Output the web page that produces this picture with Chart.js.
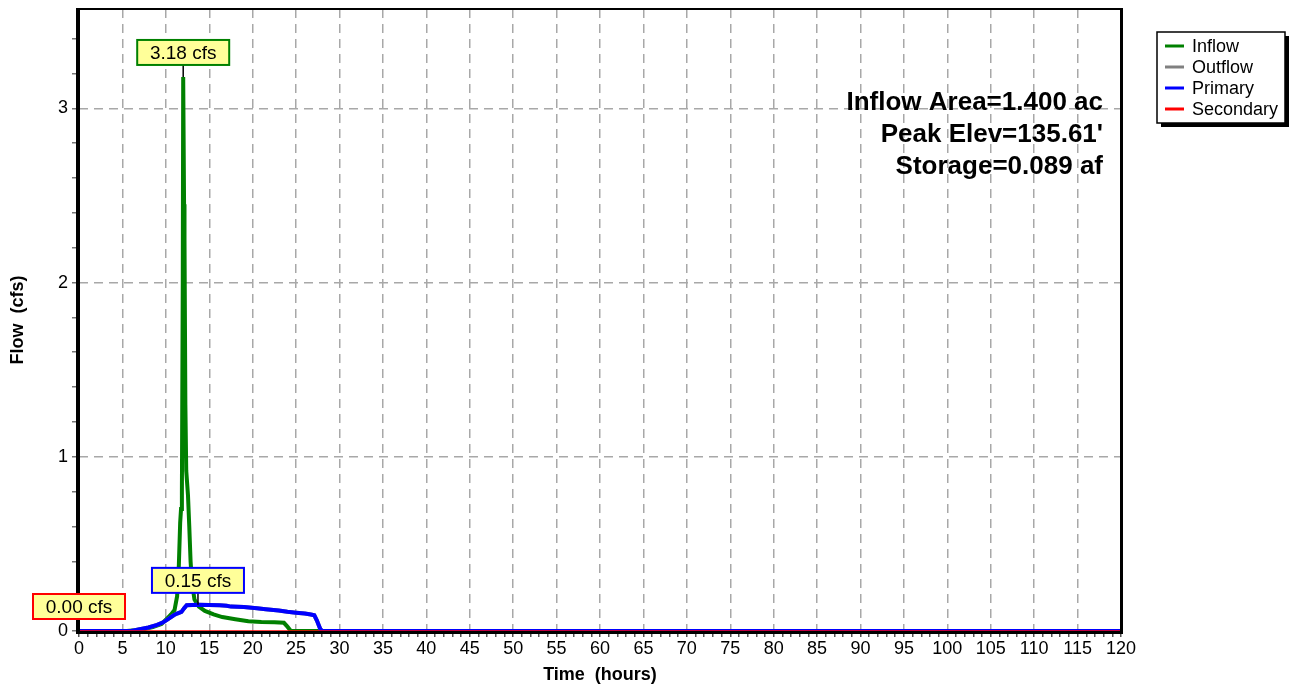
<!DOCTYPE html>
<html>
<head>
<meta charset="utf-8">
<title>Pond routing hydrograph</title>
<script src="https://cdn.jsdelivr.net/npm/chart.js@4/dist/chart.umd.min.js"></script>
<style>
  html, body { margin: 0; padding: 0; background: #fff; }
  #wrap { width: 1294px; height: 688px; }
</style>
</head>
<body>
<div id="wrap"><canvas id="flow-chart" width="1294" height="688"></canvas></div>
<script>
// hydrograph ordinates, hours / cfs
const inflowHours = [0, 5.5, 6.5, 7.5, 8.5, 9.5, 10.1, 10.6, 11.0, 11.3, 11.5, 11.65, 11.75, 11.85, 11.95, 12.0,
  12.1, 12.15, 12.25, 12.35, 12.55, 12.7, 12.85, 13.0, 13.3, 13.8, 14.5, 15.5, 16.5, 18.0, 19.5, 21.0, 22.5, 23.6, 24.0, 24.4, 120];
const inflowCfs = [0, 0, 0.005, 0.012, 0.022, 0.04, 0.07, 0.095, 0.12, 0.2, 0.38, 0.62, 0.7, 0.8, 2.0, 3.18,
  2.45, 2.25, 1.3, 0.92, 0.78, 0.6, 0.4, 0.28, 0.18, 0.14, 0.115, 0.095, 0.08, 0.068, 0.056, 0.052, 0.05, 0.047, 0.025, 0, 0];

const primaryHours = [0, 6.0, 7.0, 8.0, 9.0, 9.7, 10.3, 10.9, 11.3, 11.8, 12.1, 12.4, 13.7, 15.0, 16.2, 17.0, 17.5,
  19.0, 20.5, 21.5, 23.0, 24.0, 25.0, 26.0, 26.7, 27.1, 27.4, 27.6, 27.8, 28.0, 120];
const primaryCfs = [0, 0, 0.01, 0.02, 0.035, 0.05, 0.07, 0.09, 0.1, 0.11, 0.13, 0.148, 0.15, 0.149, 0.148, 0.145, 0.14,
  0.138, 0.13, 0.125, 0.118, 0.11, 0.105, 0.1, 0.095, 0.09, 0.06, 0.035, 0.01, 0, 0];

// no secondary discharge, so total outflow follows the primary
const outflowHours = primaryHours;
const outflowCfs = primaryCfs;

const secondaryHours = [0, 120];
const secondaryCfs = [0, 0];

const seriesNames = ["Inflow", "Outflow", "Primary", "Secondary"];
const seriesColors = ["#008000", "#808080", "#0000ff", "#ff0000"];
const infoLines = ["Inflow Area=1.400 ac", "Peak Elev=135.61'", "Storage=0.089 af"];

// series that get a peak callout box
const peakSeries = ["Inflow", "Primary", "Secondary"];

Chart.defaults.font.family = '"Liberation Sans", Arial, Helvetica, sans-serif';
Chart.defaults.color = "#000";

const toXY = (hours, cfs) => hours.map((h, i) => ({ x: h, y: cfs[i] }));
const isWhole = v => Math.abs(v - Math.round(v)) < 1e-6;

const seriesData = {
  Inflow: toXY(inflowHours, inflowCfs),
  Outflow: toXY(outflowHours, outflowCfs),
  Primary: toXY(primaryHours, primaryCfs),
  Secondary: toXY(secondaryHours, secondaryCfs)
};

// draw order: secondary on top, inflow underneath
const drawOrder = { Inflow: 3, Outflow: 2, Primary: 1, Secondary: 0 };
const lineWidths = { Inflow: 4, Outflow: 4, Primary: 4, Secondary: 1.5 };

const datasets = seriesNames.map((name, i) => ({
  label: name,
  data: seriesData[name],
  borderColor: seriesColors[i],
  backgroundColor: seriesColors[i],
  borderWidth: lineWidths[name],
  pointRadius: 0,
  tension: 0,
  fill: false,
  order: drawOrder[name]
}));

const decorations = {
  id: "decorations",
  afterDatasetsDraw(chart) {
    const { ctx, chartArea: a } = chart;
    ctx.save();
    ctx.strokeStyle = "#000";
    ctx.lineCap = "butt";
    // frame
    ctx.lineWidth = 4;
    ctx.beginPath(); ctx.moveTo(a.left - 1, a.top - 1); ctx.lineTo(a.left - 1, a.bottom + 3); ctx.stroke();
    ctx.lineWidth = 3;
    ctx.beginPath(); ctx.moveTo(a.left - 3, a.bottom + 1.5); ctx.lineTo(a.right + 2, a.bottom + 1.5); ctx.stroke();
    ctx.beginPath(); ctx.moveTo(a.right + 0.5, a.top - 1); ctx.lineTo(a.right + 0.5, a.bottom + 3); ctx.stroke();
    ctx.lineWidth = 2;
    ctx.beginPath(); ctx.moveTo(a.left - 3, a.top); ctx.lineTo(a.right + 2, a.top); ctx.stroke();
    ctx.restore();
  },
  afterDraw(chart) {
    const { ctx, chartArea: a, scales } = chart;
    const fam = Chart.defaults.font.family;
    ctx.save();

    // peak callouts
    peakSeries.forEach(name => {
      const idx = seriesNames.indexOf(name);
      const pts = seriesData[name];
      let best = pts[0];
      pts.forEach(p => { if (p.y > best.y) best = p; });
      const px = scales.x.getPixelForValue(best.x);
      const py = scales.y.getPixelForValue(best.y);
      const w = 92, h = 25;
      const bx = px - w / 2, by = py - 12 - h;
      ctx.strokeStyle = "#000";
      ctx.lineWidth = 1.5;
      ctx.beginPath(); ctx.moveTo(px, by + h); ctx.lineTo(px, py); ctx.stroke();
      ctx.fillStyle = "#ffff99";
      ctx.fillRect(bx, by, w, h);
      ctx.strokeStyle = seriesColors[idx];
      ctx.lineWidth = 2;
      ctx.strokeRect(bx, by, w, h);
      ctx.fillStyle = "#000";
      ctx.font = "19px " + fam;
      ctx.textAlign = "center";
      ctx.textBaseline = "middle";
      ctx.fillText(best.y.toFixed(2) + " cfs", px, by + h / 2 + 1);
    });

    // pond summary
    ctx.font = "bold 26px " + fam;
    ctx.textAlign = "right";
    ctx.textBaseline = "middle";
    ctx.fillStyle = "#000";
    infoLines.forEach((t, i) => ctx.fillText(t, a.right - 18, a.top + 94 + i * 32));

    // legend box with drop shadow
    const lx = a.right + 36, ly = a.top + 23, lw = 128, lh = 91;
    ctx.fillStyle = "#000";
    ctx.fillRect(lx + 4, ly + 4, lw, lh);
    ctx.fillStyle = "#fff";
    ctx.fillRect(lx, ly, lw, lh);
    ctx.strokeStyle = "#000";
    ctx.lineWidth = 1.5;
    ctx.strokeRect(lx, ly, lw, lh);
    ctx.font = "18px " + fam;
    ctx.textAlign = "left";
    seriesNames.forEach((name, i) => {
      const y = ly + 14 + i * 21;
      ctx.strokeStyle = seriesColors[i];
      ctx.lineWidth = 3;
      ctx.beginPath(); ctx.moveTo(lx + 8, y); ctx.lineTo(lx + 27, y); ctx.stroke();
      ctx.fillStyle = "#000";
      ctx.fillText(name, lx + 35, y + 1);
    });
    ctx.restore();
  }
};

new Chart(document.getElementById("flow-chart"), {
  type: "line",
  data: { datasets },
  options: {
    responsive: false,
    animation: false,
    layout: { padding: { top: 9, right: 173, left: 0, bottom: 0 } },
    plugins: { legend: { display: false }, tooltip: { enabled: false } },
    scales: {
      x: {
        type: "linear",
        min: 0,
        max: 120,
        afterFit: s => { s.height = 57; s.paddingLeft = 0; s.paddingRight = 0; },
        ticks: {
          stepSize: 1,
          maxTicksLimit: 1000,
          autoSkip: false,
          maxRotation: 0,
          padding: 1,
          font: { size: 18 },
          callback: v => (v % 5 === 0 ? String(v) : "")
        },
        grid: {
          color: c => (c.tick && c.tick.value % 5 === 0 && c.tick.value > 0 && c.tick.value < 120 ? "#a8a8a8" : "rgba(0,0,0,0)"),
          lineWidth: 1.5,
          tickColor: "#555",
          tickLength: 6
        },
        border: { display: false, dash: [9, 6] },
        title: { display: true, text: "Time  (hours)", font: { size: 18, weight: "bold" }, padding: { top: 0, bottom: 2 } }
      },
      y: {
        type: "linear",
        min: 0,
        max: 3.57,
        afterFit: s => { s.width = 79; s.paddingTop = 0; s.paddingBottom = 0; },
        ticks: {
          stepSize: 0.2,
          includeBounds: false,
          autoSkip: false,
          padding: 4,
          font: { size: 18 },
          callback: v => (isWhole(v) ? String(Math.round(v)) : "")
        },
        grid: {
          color: c => (c.tick && isWhole(c.tick.value) && c.tick.value > 0 ? "#a8a8a8" : "rgba(0,0,0,0)"),
          lineWidth: 1.5,
          tickColor: "#777",
          tickLength: 7
        },
        border: { display: false, dash: [9, 6] },
        title: { display: true, text: "Flow  (cfs)", font: { size: 18, weight: "bold" }, padding: { top: 7, bottom: 0 } }
      }
    }
  },
  plugins: [decorations]
});
</script>
</body>
</html>
